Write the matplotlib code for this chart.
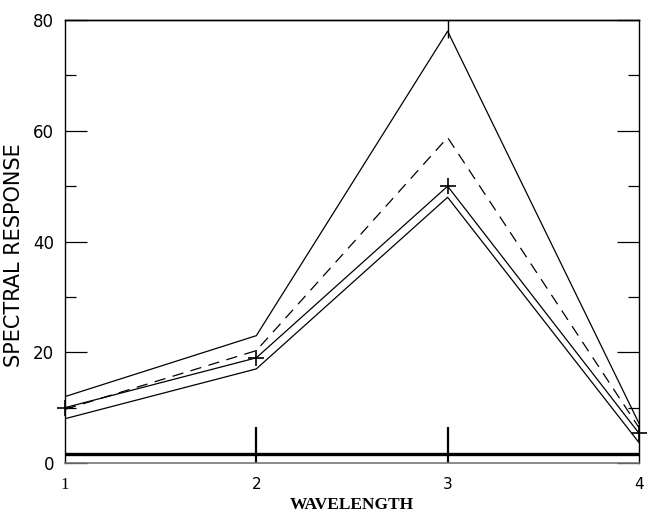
# Spectral response of four samples across four wavelength bands
import matplotlib
matplotlib.use('Agg')
import matplotlib.pyplot as plt

wavelength = [1, 2, 3, 4]
upper = [12, 23, 78, 7.2]        # solid, top curve
dashed = [9.7, 20.3, 58.8, 6.4]  # dashed curve
marked = [10, 19, 50, 5.4]       # solid with + markers
lower = [8, 17, 48, 3.7]         # solid, lowest curve
baseline = 1.6

xticks = [1, 2, 3, 4]
yticks = [0, 20, 40, 60, 80]
yminor = [10, 30, 50, 70]

fig = plt.figure(figsize=(6.47, 5.12), dpi=100)
ax = fig.add_axes([0.1005, 0.0957, 0.887, 0.865])

ax.plot(wavelength, upper, color='black', lw=0.9)
ax.plot(wavelength, dashed, color='black', lw=0.9, dashes=(9, 6))
ax.plot(wavelength, marked, color='black', lw=0.9, marker='+', ms=12,
        mew=1.2, clip_on=False)
ax.plot(wavelength, lower, color='black', lw=0.9)
ax.plot([wavelength[0], wavelength[-1]], [baseline, baseline],
        color='black', lw=2.4, solid_capstyle='butt')

ax.set_xlim(1, 4)
ax.set_ylim(0, 80)

ax.set_xticks(xticks)
ax.set_xticklabels([str(v) for v in xticks], fontsize=11)
ax.get_xticklabels()[0].set_family('Liberation Serif')
ax.get_xticklabels()[0].set_fontsize(12)
ax.tick_params(axis='x', direction='in', length=26, width=1.6, pad=10)
# end ticks would sit on the side spines
for t in (ax.xaxis.get_major_ticks()[0], ax.xaxis.get_major_ticks()[-1]):
    t.tick1line.set_visible(False)

ax.set_yticks(yticks)
ax.set_yticks(yminor, minor=True)
ax.set_yticklabels([str(v) for v in yticks], fontsize=12)
ax.tick_params(axis='y', which='major', direction='in', length=16,
               width=0.9, right=True, pad=8)
ax.tick_params(axis='y', which='minor', direction='in', length=8,
               width=0.9, right=True)

top = ax.secondary_xaxis('top')
top.set_xticks([3])
top.set_xticklabels([])
top.tick_params(direction='in', length=13, width=1.0)
top.spines['top'].set_linewidth(1.0)

for side in ['left', 'right', 'top']:
    ax.spines[side].set_linewidth(1.0)
ax.spines['bottom'].set_color('#777777')
ax.spines['bottom'].set_linewidth(1.2)

ax.set_xlabel('WAVELENGTH', fontsize=12.5, fontweight='bold',
              family='Liberation Serif', labelpad=3)
ax.set_ylabel('SPECTRAL RESPONSE', fontsize=15)
ax.yaxis.set_label_coords(-0.072, 0.47)

fig.savefig('out.png', dpi=100)
